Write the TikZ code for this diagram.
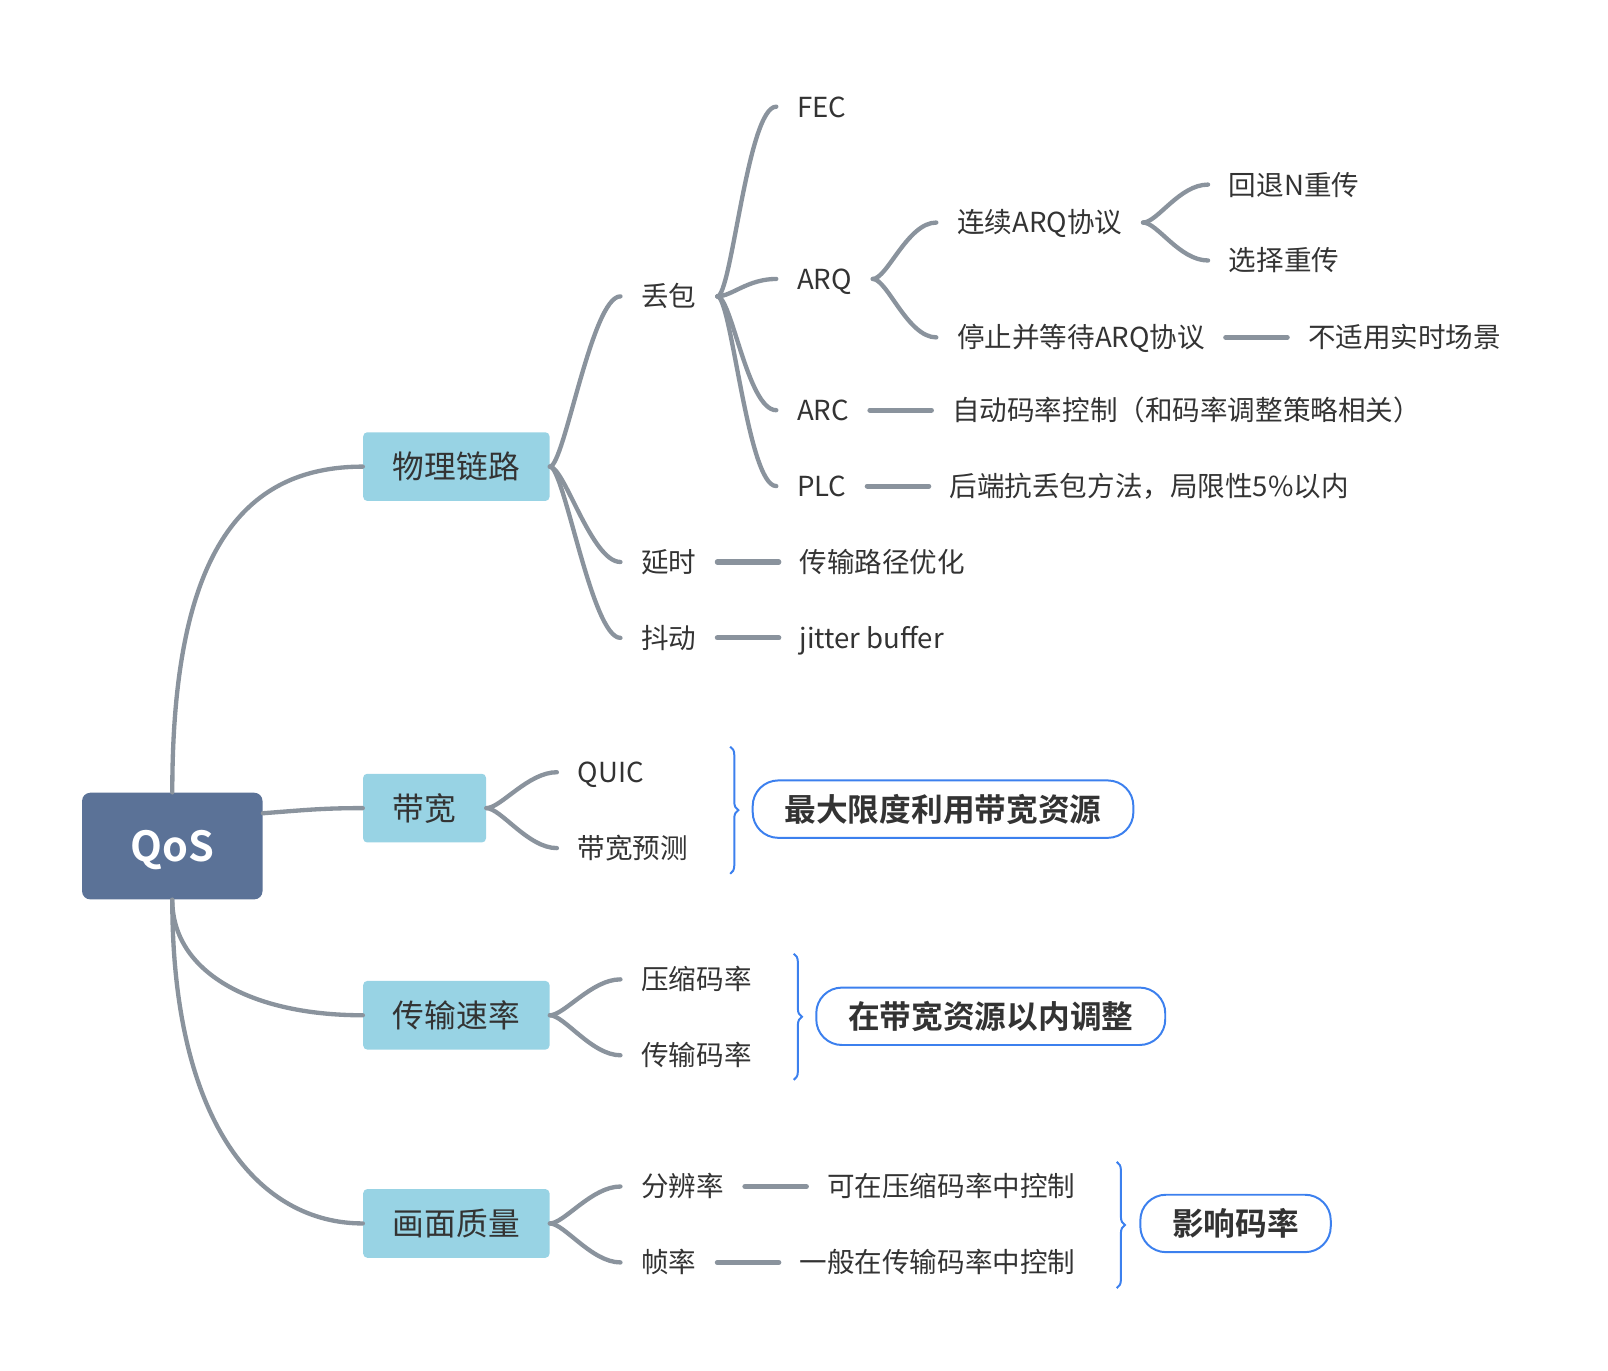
\documentclass[tikz,border=0pt]{standalone}
\usepackage{fontspec}
\setmainfont{Noto Sans CJK SC}[BoldFont={Noto Sans CJK SC Bold}]
\usepackage{tikz}
\usetikzlibrary{positioning, decorations.pathreplacing}
\definecolor{qslate}{HTML}{5B7297}
\definecolor{qsky}{HTML}{98D3E4}
\definecolor{qgray}{HTML}{8A939D}
\definecolor{qblue}{HTML}{3C80EE}
\definecolor{qtext}{HTML}{333333}

\tikzset{
  rootbox/.style={fill=qslate, rounded corners=0.16cm, minimum width=3.52cm, minimum height=2.08cm,
    text=white, text height=16.6pt, text depth=0pt, font=\fontsize{23}{26}\selectfont\bfseries},
  topicbox/.style={fill=qsky, rounded corners=0.08cm, minimum height=1.34cm, inner xsep=0.58cm,
    text=qtext, text height=16.7pt, text depth=3.3pt, font=\fontsize{17.6}{20}\selectfont},
  leaf/.style={anchor=west, inner xsep=0.4cm, inner ysep=0.1cm, text=qtext,
    text height=14.5pt, text depth=2.9pt, font=\fontsize{15.3}{18}\selectfont},
  sumbox/.style={draw=qblue, line width=1.1pt, rounded corners=0.5cm, minimum height=1.12cm,
    inner xsep=0.62cm, anchor=west, text=qtext, text height=16.7pt, text depth=3.3pt,
    font=\fontsize{17.6}{20}\selectfont\bfseries},
  wire/.style={draw=qgray, line width=2.4pt, line cap=round},
  stub/.style={wire, line width=2.8pt},
  branch/.style={wire, to path={.. controls +(14,0) and +(-28,0) .. (\tikztotarget)}},
  bracket/.style={draw=qblue, line width=1.1pt, decorate, decoration={brace, amplitude=0.16cm}}
}

\begin{document}
\begin{tikzpicture}[x=0.02cm, y=-0.02cm]
\useasboundingbox (0,0) rectangle (1568,1336);

% root and main topics
\node[rootbox] (qos) at (168,825) {QoS};
\node[topicbox] (link) at (445,455) {物理链路};
\node[topicbox] (bw) at (414,788) {带宽};
\node[topicbox] (rate) at (445,990) {传输速率};
\node[topicbox] (qual) at (445,1193) {画面质量};

\draw[wire] (qos.north) .. controls +(0,-230) and +(-120,0) .. (link.west);
\draw[wire] ([yshift=0.64cm]qos.east) .. controls +(40,-3) and +(-40,0) .. (bw.west);
\draw[wire] (qos.south) .. controls +(0,70) and +(-110,0) .. (rate.west);
\draw[wire] (qos.south) .. controls +(0,220) and +(-100,0) .. (qual.west);

% 物理链路
\node[leaf] (loss) at (605,289) {丢包};
\node[leaf] (delay) at (605,548) {延时};
\node[leaf] (jitter) at (605,622) {抖动};
\draw[branch] (link.east) to (loss.west);
\draw[branch] (link.east) to (delay.west);
\draw[branch] (link.east) to (jitter.west);

\node[leaf] (fec) at (757,104) {FEC};
\node[leaf] (arq) at (757,272) {ARQ};
\node[leaf] (arc) at (757,400) {ARC};
\node[leaf] (plc) at (757,474) {PLC};
\draw[branch] (loss.east) to (fec.west);
\draw[branch] (loss.east) to (arq.west);
\draw[branch] (loss.east) to (arc.west);
\draw[branch] (loss.east) to (plc.west);

\node[leaf] (carq) at (913,217) {连续ARQ协议};
\node[leaf] (swarq) at (913,329) {停止并等待ARQ协议};
\draw[branch] (arq.east) to (carq.west);
\draw[branch] (arq.east) to (swarq.west);

\node[leaf] (gbn) at (1178,180) {回退N重传};
\node[leaf] (sr) at (1178,254) {选择重传};
\draw[branch] (carq.east) to (gbn.west);
\draw[branch] (carq.east) to (sr.west);

\node[leaf, right=1.2cm of swarq] (nort) {不适用实时场景};
\node[leaf, right=1.2cm of arc] (arcnote) {自动码率控制（和码率调整策略相关）};
\node[leaf, right=1.2cm of plc] (plcnote) {后端抗丢包方法，局限性5\%以内};
\node[leaf, right=1.2cm of delay] (delaynote) {传输路径优化};
\node[leaf, right=1.2cm of jitter] (jitternote) {jitter buffer};
\draw[stub] (swarq.east) -- (nort.west);
\draw[stub] (arc.east) -- (arcnote.west);
\draw[stub] (plc.east) -- (plcnote.west);
\draw[stub] (delay.east) -- (delaynote.west);
\draw[stub] (jitter.east) -- (jitternote.west);

% 带宽
\node[leaf] (quic) at (543,753) {QUIC};
\node[leaf] (bwpred) at (543,827) {带宽预测};
\draw[branch] (bw.east) to (quic.west);
\draw[branch] (bw.east) to (bwpred.west);
\draw[bracket] (712,728) -- (712,852);
\node[sumbox] (bwsum) at (733,789) {最大限度利用带宽资源};

% 传输速率
\node[leaf] (comp) at (605,955) {压缩码率};
\node[leaf] (trans) at (605,1029) {传输码率};
\draw[branch] (rate.east) to (comp.west);
\draw[branch] (rate.east) to (trans.west);
\draw[bracket] (774,930) -- (774,1053);
\node[sumbox] (ratesum) at (795,991) {在带宽资源以内调整};

% 画面质量
\node[leaf] (res) at (605,1157) {分辨率};
\node[leaf] (fps) at (605,1231) {帧率};
\draw[branch] (qual.east) to (res.west);
\draw[branch] (qual.east) to (fps.west);
\node[leaf, right=1.2cm of res] (resnote) {可在压缩码率中控制};
\node[leaf, right=1.2cm of fps] (fpsnote) {一般在传输码率中控制};
\draw[stub] (res.east) -- (resnote.west);
\draw[stub] (fps.east) -- (fpsnote.west);
\draw[bracket] (1089,1133) -- (1089,1256);
\node[sumbox] (qualsum) at (1111,1193) {影响码率};
\end{tikzpicture}
\end{document}
